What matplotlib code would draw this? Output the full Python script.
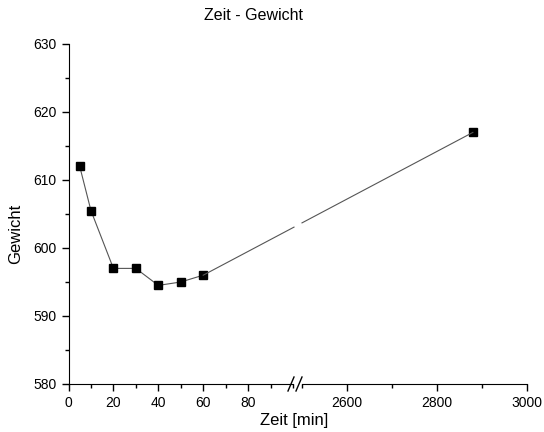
import matplotlib
import matplotlib.pyplot as plt
from matplotlib.ticker import MultipleLocator

matplotlib.use('Agg')
plt.rcParams['font.family'] = ['Liberation Sans', 'DejaVu Sans']

# data
zeit = [5, 10, 20, 30, 40, 50, 60, 2880]
gewicht = [612, 605.5, 597, 597, 594.5, 595, 596, 617]
n_left = 7  # points on the left part of the broken axis

W, H = 544, 432
fig = plt.figure(figsize=(W / 100, H / 100), dpi=100)

bottom = 1 - 384 / H
height = (384 - 44) / H
ax1 = fig.add_axes([68.5 / W, bottom, (293 - 68.5) / W, height])
ax2 = fig.add_axes([301.5 / W, bottom, (527 - 301.5) / W, height])

line_kw = dict(color='#555555', lw=0.8, marker='s', ms=5.8, mfc='black', mec='black', zorder=3)
ax1.plot(zeit[:n_left], gewicht[:n_left], **line_kw)
ax2.plot(zeit[n_left:], gewicht[n_left:], **line_kw)

for ax in (ax1, ax2):
    ax.set_ylim(580, 630)
    ax.spines['top'].set_visible(False)
    ax.spines['right'].set_visible(False)
    ax.tick_params(which='major', direction='out', length=5, width=1, labelsize=10)
    ax.tick_params(which='minor', direction='out', length=3, width=1)
    ax.patch.set_alpha(0)

ax1.set_xlim(0, 100)
ax1.set_xticks([0, 20, 40, 60, 80])
ax1.xaxis.set_minor_locator(MultipleLocator(10))
ax1.yaxis.set_major_locator(MultipleLocator(10))
ax1.yaxis.set_minor_locator(MultipleLocator(5))

ax2.set_xlim(2500, 3000)
ax2.set_xticks([2600, 2800, 3000])
ax2.xaxis.set_minor_locator(MultipleLocator(100))
ax2.spines['left'].set_visible(False)
ax2.yaxis.set_visible(False)

# connecting segment across the break, straight in screen space, gap at the break
p0 = ax1.transData.transform((zeit[n_left - 1], gewicht[n_left - 1]))
p1 = ax2.transData.transform((zeit[n_left], gewicht[n_left]))
def at_x(px):
    t = (px - p0[0]) / (p1[0] - p0[0])
    return p0[1] + t * (p1[1] - p0[1])
to_fig = fig.transFigure.inverted()
for xa, xb in ((p0[0], 294.0), (302.0, p1[0])):
    a = to_fig.transform((xa, at_x(xa)))
    b = to_fig.transform((xb, at_x(xb)))
    fig.add_artist(plt.Line2D([a[0], b[0]], [a[1], b[1]], color='#555555', lw=0.8, zorder=1))

# break marks on the x axis
yb = 384
for x0 in (291, 299):
    fig.add_artist(plt.Line2D([(x0 - 3) / W, (x0 + 3) / W],
                              [1 - (yb + 7) / H, 1 - (yb - 7) / H],
                              color='black', lw=1))

fig.text(253 / W, 1 - 15 / H, 'Zeit - Gewicht', ha='center', va='center', fontsize=11.5)
fig.text(16 / W, 1 - 234 / H, 'Gewicht', rotation=90, ha='center', va='center', fontsize=12)
fig.text(294 / W, 1 - 413 / H, 'Zeit [min]', ha='center', va='top', fontsize=12)

fig.savefig('out.png', dpi=100)
